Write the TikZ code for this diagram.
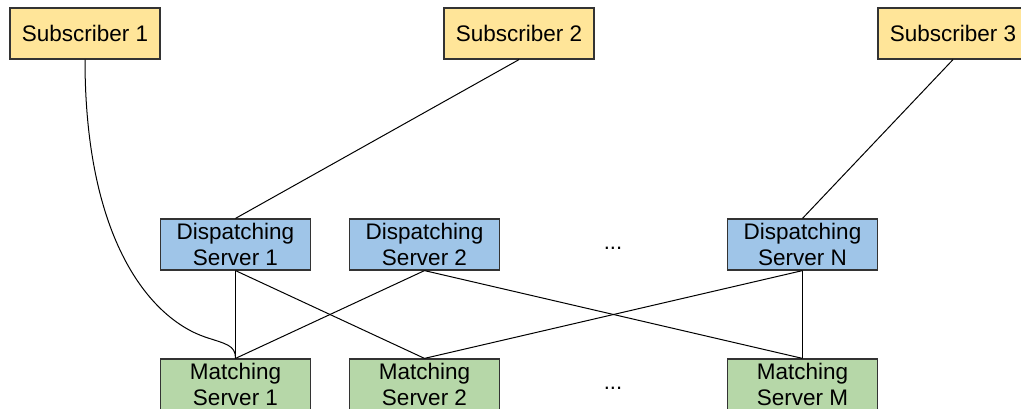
\documentclass[tikz,border=0pt]{standalone}
\usepackage{fontspec}
\setmainfont{Liberation Sans}
\definecolor{subfill}{HTML}{FFE599}
\definecolor{dispfill}{HTML}{9FC5E8}
\definecolor{matchfill}{HTML}{B6D7A8}
\definecolor{edgecol}{HTML}{333333}
\tikzset{
  box/.style={draw=edgecol, line width=1.2pt, minimum width=150pt, minimum height=51pt,
    inner sep=0pt, align=center, font=\fontsize{22.5}{26}\selectfont},
  subbox/.style={box, fill=subfill},
  dispbox/.style={box, fill=dispfill},
  matchbox/.style={box, fill=matchfill},
  link/.style={draw=black, line width=1pt},
  dots/.style={font=\fontsize{22}{25}\selectfont, inner sep=0pt}
}
\begin{document}
\begin{tikzpicture}[x=1pt,y=-1pt]
\useasboundingbox (0,0) rectangle (1021,409);
\clip (0,0) rectangle (1021,409);
\fill[white] (0,0) rectangle (1021,409);
\node[subbox] (s1) at (85,33.5) {Subscriber 1};
\node[subbox] (s2) at (519,33.5) {Subscriber 2};
\node[subbox] (s3) at (953,33.5) {Subscriber 3};
\node[dispbox] (d1) at (235.5,244.5) {Dispatching\\Server 1};
\node[dispbox] (d2) at (424.5,244.5) {Dispatching\\Server 2};
\node[dispbox] (dn) at (802.5,244.5) {Dispatching\\Server N};
\node[matchbox] (m1) at (235.5,384.5) {Matching\\Server 1};
\node[matchbox] (m2) at (424.5,384.5) {Matching\\Server 2};
\node[matchbox] (mm) at (802.5,384.5) {Matching\\Server M};
\node[dots] (dotsd) at (613,248) {...};
\node[dots] (dotsm) at (613,388) {...};
\draw[link] (s1.south) .. controls (85,240) and (150,318) .. (205,337)
  .. controls (226,344) and (235.5,345) .. (m1.north);
\draw[link] (s2.south) -- (d1.north);
\draw[link] (s3.south) -- (dn.north);
\draw[link] (d1.south) -- (m1.north);
\draw[link] (d1.south) -- (m2.north);
\draw[link] (d2.south) -- (m1.north);
\draw[link] (d2.south) -- (mm.north);
\draw[link] (dn.south) -- (m2.north);
\draw[link] (dn.south) -- (mm.north);
\end{tikzpicture}
\end{document}
